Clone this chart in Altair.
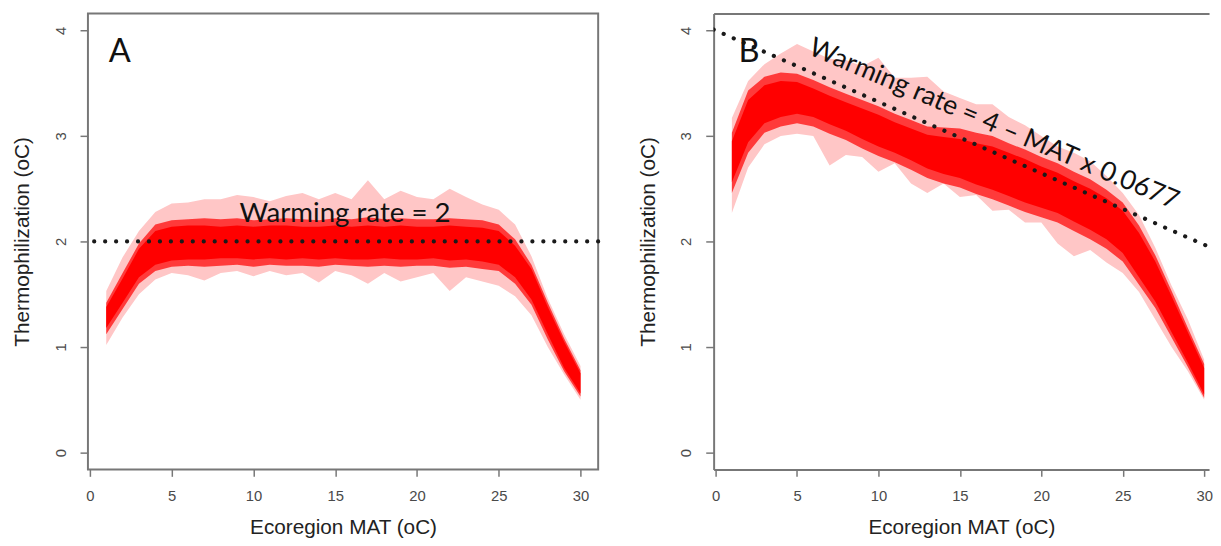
import altair as alt
import pandas as pd

# ---------------- data ----------------
mat = list(range(1, 31))

# Panel A: envelope of simulated lines (outer = faint, core = red, dense = saturated)
a_outer_hi = [1.53, 1.85, 2.10, 2.28, 2.36, 2.37, 2.40, 2.40, 2.44, 2.42, 2.38, 2.43, 2.46, 2.40, 2.46,
              2.40, 2.58, 2.40, 2.48, 2.42, 2.40, 2.50, 2.42, 2.35, 2.30, 2.16, 1.86, 1.46, 1.12, 0.82]
a_outer_lo = [1.02, 1.28, 1.50, 1.64, 1.70, 1.68, 1.63, 1.70, 1.72, 1.67, 1.72, 1.68, 1.70, 1.61, 1.72,
              1.68, 1.60, 1.70, 1.62, 1.66, 1.70, 1.53, 1.66, 1.62, 1.58, 1.48, 1.30, 1.00, 0.74, 0.50]
a_core_hi = [1.42, 1.70, 1.98, 2.16, 2.20, 2.21, 2.22, 2.21, 2.22, 2.20, 2.21, 2.22, 2.21, 2.20, 2.22,
             2.21, 2.23, 2.21, 2.22, 2.21, 2.21, 2.22, 2.21, 2.20, 2.16, 2.02, 1.78, 1.42, 1.08, 0.78]
a_core_lo = [1.12, 1.36, 1.60, 1.72, 1.76, 1.77, 1.76, 1.77, 1.78, 1.76, 1.78, 1.77, 1.77, 1.76, 1.78,
             1.77, 1.76, 1.77, 1.76, 1.77, 1.77, 1.75, 1.76, 1.74, 1.72, 1.60, 1.40, 1.07, 0.77, 0.53]
a_dense_hi = [1.38, 1.65, 1.93, 2.10, 2.14, 2.15, 2.15, 2.14, 2.15, 2.14, 2.15, 2.15, 2.14, 2.14, 2.15,
              2.14, 2.15, 2.14, 2.15, 2.14, 2.14, 2.15, 2.14, 2.13, 2.10, 1.96, 1.74, 1.38, 1.05, 0.75]
a_dense_lo = [1.18, 1.42, 1.66, 1.78, 1.82, 1.83, 1.83, 1.84, 1.84, 1.83, 1.84, 1.83, 1.84, 1.83, 1.84,
              1.83, 1.83, 1.84, 1.83, 1.83, 1.84, 1.82, 1.83, 1.81, 1.78, 1.66, 1.45, 1.12, 0.80, 0.56]

# Panel B
b_outer_hi = [3.17, 3.52, 3.68, 3.78, 3.87, 3.80, 3.73, 3.72, 3.66, 3.74, 3.55, 3.55, 3.56, 3.42, 3.36,
              3.30, 3.30, 3.18, 3.10, 3.00, 2.90, 2.84, 2.76, 2.62, 2.46, 2.25, 1.94, 1.58, 1.26, 0.88]
b_outer_lo = [2.27, 2.70, 2.92, 3.00, 3.02, 3.00, 2.72, 2.82, 2.80, 2.66, 2.74, 2.55, 2.46, 2.55, 2.42,
              2.44, 2.29, 2.30, 2.18, 2.18, 1.98, 1.86, 1.92, 1.80, 1.70, 1.52, 1.26, 1.00, 0.77, 0.50]
b_core_hi = [3.03, 3.43, 3.56, 3.60, 3.59, 3.53, 3.46, 3.40, 3.34, 3.28, 3.21, 3.15, 3.09, 3.08, 3.07,
             3.03, 3.00, 2.93, 2.87, 2.80, 2.74, 2.66, 2.59, 2.49, 2.37, 2.15, 1.87, 1.53, 1.18, 0.84]
b_core_lo = [2.46, 2.84, 3.03, 3.09, 3.12, 3.09, 3.02, 2.96, 2.88, 2.81, 2.75, 2.68, 2.60, 2.55, 2.51,
             2.45, 2.40, 2.34, 2.28, 2.23, 2.18, 2.10, 2.02, 1.93, 1.81, 1.59, 1.37, 1.09, 0.81, 0.52]
b_dense_hi = [2.95, 3.34, 3.48, 3.52, 3.51, 3.45, 3.38, 3.32, 3.26, 3.20, 3.13, 3.07, 3.01, 2.99, 2.97,
              2.93, 2.90, 2.84, 2.78, 2.71, 2.65, 2.57, 2.50, 2.41, 2.29, 2.08, 1.81, 1.48, 1.14, 0.80]
b_dense_lo = [2.56, 2.94, 3.12, 3.18, 3.21, 3.18, 3.11, 3.05, 2.97, 2.90, 2.84, 2.77, 2.69, 2.64, 2.60,
              2.54, 2.49, 2.43, 2.37, 2.32, 2.27, 2.19, 2.11, 2.02, 1.89, 1.66, 1.43, 1.14, 0.85, 0.55]

# reference lines
a_rate = 2
b_line_x = [-0.12, 30.3]
b_line_y = [4.008, 1.949]

x_ticks = [0, 5, 10, 15, 20, 25, 30]
y_ticks = [0, 1, 2, 3, 4]
x_title = "Ecoregion MAT (oC)"
y_title = "Thermophilization (oC)"
a_label = "Warming rate = 2"
b_label = "Warming rate = 4 \u2013 MAT x 0.0677"

# ---------------- styling ----------------
AX_FONT = "Liberation Sans"
NOTE_FONT = "Lato"
LABEL_COL = "#4a4a4a"
LINE_COL = "#777777"
Y_DOM = [-0.16, 4.16]
PH = 462
DOT = dict(color="#1a1a1a", strokeWidth=4.2, strokeDash=[0.1, 11], strokeCap="round")


def x_axis(domain):
    return alt.Axis(values=x_ticks, title=x_title, grid=False, domain=domain, format="d",
                    domainColor=LINE_COL, domainWidth=2,
                    tickSize=7, tickColor=LINE_COL, tickWidth=1.5,
                    labelFont=AX_FONT, labelFontSize=15, labelColor=LABEL_COL,
                    labelPadding=12, labelFlush=False,
                    titleFont=AX_FONT, titleFontSize=21, titleFontWeight="normal",
                    titleColor="#222222", titlePadding=14)


def y_axis(domain):
    return alt.Axis(values=y_ticks, title=y_title, grid=False, domain=domain, format="d",
                    domainColor=LINE_COL, domainWidth=2,
                    tickSize=8, tickColor=LINE_COL, tickWidth=1.5,
                    labelFont=AX_FONT, labelFontSize=15, labelColor=LABEL_COL,
                    labelAngle=270, labelPadding=12, labelFlush=False,
                    titleFont=AX_FONT, titleFontSize=21, titleFontWeight="normal",
                    titleColor="#222222", titlePadding=21)


def panel(hi_o, lo_o, hi_c, lo_c, hi_d, lo_d, x_dom, boxed, xs_extra):
    df = pd.DataFrame({"mat": mat, "ohi": hi_o, "olo": lo_o, "chi": hi_c, "clo": lo_c,
                       "dhi": hi_d, "dlo": lo_d})
    xs = alt.Scale(domain=x_dom, nice=False, zero=False)
    ys = alt.Scale(domain=Y_DOM, nice=False, zero=False)
    base = alt.Chart(df)
    outer = base.mark_area(color="#ffc6c6", opacity=1).encode(
        x=alt.X("mat:Q", scale=xs, axis=x_axis(not boxed)),
        y=alt.Y("olo:Q", scale=ys, axis=y_axis(not boxed)),
        y2="ohi:Q")
    core = base.mark_area(color="#ff3a3a").encode(
        x=alt.X("mat:Q", scale=xs, **xs_extra), y=alt.Y("clo:Q", scale=ys), y2="chi:Q")
    dense = base.mark_area(color="#ff0000").encode(
        x=alt.X("mat:Q", scale=xs, **xs_extra), y=alt.Y("dlo:Q", scale=ys), y2="dhi:Q")
    return [outer, core, dense], xs, ys


# ---- panel A ----
A_XDOM = [-0.12, 31.08]
layersA, xsA, ysA = panel(a_outer_hi, a_outer_lo, a_core_hi, a_core_lo, a_dense_hi, a_dense_lo,
                          A_XDOM, True, {})
ruleA = alt.Chart(pd.DataFrame({"rate": [a_rate]})).mark_rule(**DOT).encode(
    y=alt.Y("rate:Q", scale=ysA))
noteA = alt.Chart(pd.DataFrame({"x": [15.6], "y": [2.18], "t": [a_label]})).mark_text(
    font=NOTE_FONT, fontSize=28, color="#111111", align="center", baseline="alphabetic").encode(
    x=alt.X("x:Q", scale=xsA), y=alt.Y("y:Q", scale=ysA), text="t:N")
tagA = alt.Chart(pd.DataFrame({"x": [1.15], "y": [3.70], "t": ["A"]})).mark_text(
    font=NOTE_FONT, fontSize=33, color="#111111", align="left", baseline="alphabetic").encode(
    x=alt.X("x:Q", scale=xsA), y=alt.Y("y:Q", scale=ysA), text="t:N")
chartA = alt.layer(*layersA, ruleA, noteA, tagA).properties(
    width=517, height=PH, view=alt.ViewBackground(stroke=LINE_COL, strokeWidth=2))

# ---- panel B ----
B_XDOM = [-0.12, 30.3]
NOX = {"axis": None}
layersB, xsB, ysB = panel(b_outer_hi, b_outer_lo, b_core_hi, b_core_lo, b_dense_hi, b_dense_lo,
                          B_XDOM, False, NOX)
lineB = alt.Chart(pd.DataFrame({"x": b_line_x, "y": b_line_y})).mark_line(clip=True, **DOT).encode(
    x=alt.X("x:Q", scale=xsB, axis=None), y=alt.Y("y:Q", scale=ysB))
noteB = alt.Chart(pd.DataFrame({"x": [16.9], "y": [3.04], "t": [b_label]})).mark_text(
    font=NOTE_FONT, fontSize=27, color="#111111", align="center", baseline="alphabetic", angle=23).encode(
    x=alt.X("x:Q", scale=xsB, axis=None), y=alt.Y("y:Q", scale=ysB), text="t:N")
tagB = alt.Chart(pd.DataFrame({"x": [1.4], "y": [3.70], "t": ["B"]})).mark_text(
    font=NOTE_FONT, fontSize=33, color="#111111", align="left", baseline="alphabetic").encode(
    x=alt.X("x:Q", scale=xsB, axis=None), y=alt.Y("y:Q", scale=ysB), text="t:N")
topB = alt.Chart(pd.DataFrame({"x": b_line_x})).mark_point(opacity=0).encode(
    x=alt.X("x:Q", scale=xsB, axis=alt.Axis(orient="top", labels=False, ticks=False, title=None,
                                             domain=True, domainColor=LINE_COL, domainWidth=2, grid=False)))
chartB = alt.layer(*layersB, lineB, noteB, tagB, topB).resolve_axis(x="independent").properties(
    width=502, height=PH, view=alt.ViewBackground(stroke="transparent", strokeWidth=0))

chart = alt.hconcat(chartA, chartB, spacing=36).properties(
    padding={"left": 3, "top": 1, "right": 0, "bottom": 0}
).configure(background="white")

chart.save("out.html", embed_options={"renderer": "svg", "actions": False})
